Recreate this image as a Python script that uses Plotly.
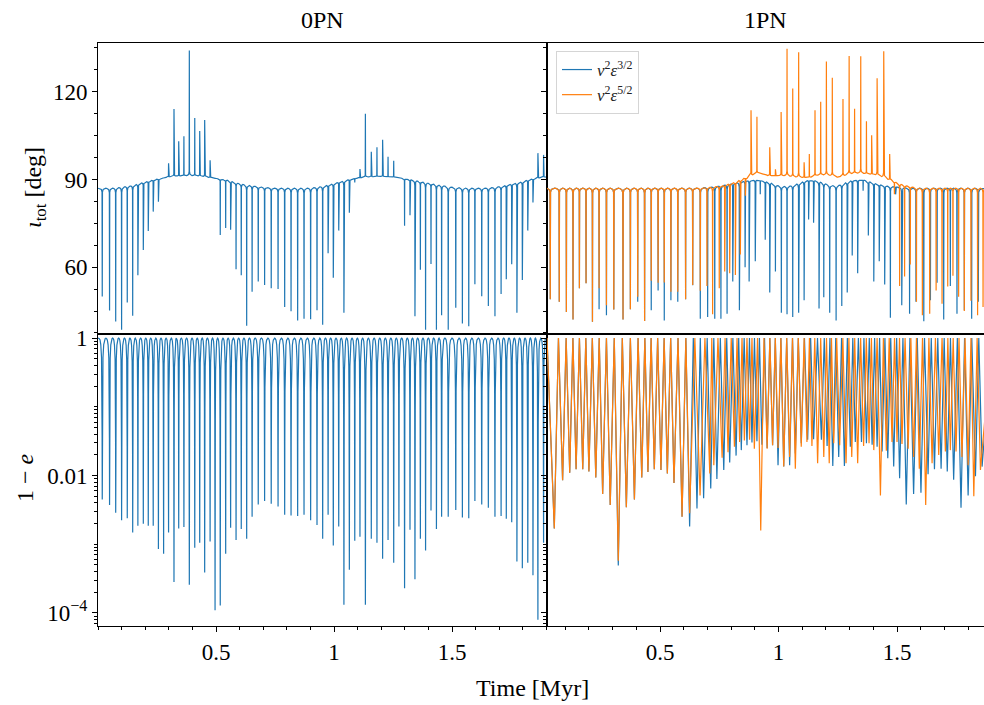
import numpy as np
import plotly.graph_objects as go

# ------------------------------------------------------------------
# DATA
# ------------------------------------------------------------------
# ---- 0PN (left column): one entry per Kozai cycle ----
t_0pn = [0.018,0.049,0.075,0.100,0.124,0.147,0.169,0.192,0.213,0.234,0.256,0.278,0.299,0.322,0.342,0.364,0.387,0.410,0.431,0.452,0.475,0.496,0.518,0.541,0.562,0.585,0.607,0.630,
         0.653,0.679,0.706,0.734,0.763,0.791,0.818,0.846,0.873,0.901,0.928,0.952,0.975,0.997,1.020,1.042,1.065,1.088,1.110,1.133,1.158,1.182,1.206,1.229,1.253,
         1.275,1.299,1.322,1.343,1.366,1.388,1.411,1.434,1.456,1.484,1.516,1.544,1.571,1.597,1.626,1.654,1.682,1.708,1.730,1.753,1.775,1.798,1.821,1.843,1.864,1.888]
inc_base_0pn = [87.0,87.0,87.1,87.3,87.6,87.9,88.4,88.9,89.3,89.7,90.1,90.5,90.9,91.1,91.2,91.3,91.3,91.3,91.2,91.0,90.7,90.4,90.1,89.8,89.3,88.8,88.4,88.0,
                87.8,87.5,87.3,87.1,87.0,87.0,87.0,87.0,87.0,87.1,87.3,87.6,88.0,88.5,89.0,89.5,89.9,90.3,90.6,90.8,90.9,91.0,91.0,90.9,90.8,
                90.6,90.2,89.9,89.6,89.2,88.9,88.5,88.2,87.9,87.5,87.2,87.1,87.0,87.0,87.0,87.1,87.3,87.6,88.0,88.4,88.8,89.2,89.7,90.1,90.5,90.8]
inc_peak_0pn = [50.0,45.2,41.4,38.6,47.9,43.4,57.2,65.9,72.4,79.0,82.4,90.5,95.5,114.1,103.1,104.8,134.1,111.0,106.6,110.3,96.6,90.4,71.0,73.4,72.8,59.3,57.2,40.0,
                51.6,55.1,53.9,52.8,52.5,46.4,44.9,41.8,42.4,42.2,45.3,40.3,64.8,56.4,72.5,44.4,78.6,89.0,93.6,112.5,99.5,101.0,103.6,97.8,96.4,
                90.6,74.2,77.8,43.2,59.1,38.6,61.1,38.6,43.6,38.6,46.1,40.7,39.8,54.2,50.1,46.7,43.2,50.8,55.9,61.0,44.4,55.6,72.5,82.1,99.0,98.4]
log_ome_min_0pn = [-2.35,-2.43,-2.54,-2.65,-2.62,-2.83,-2.73,-2.70,-2.73,-2.73,-3.07,-3.14,-2.83,-3.55,-2.77,-2.75,-3.59,-3.05,-2.98,-3.41,-2.96,-3.96,-3.89,-3.14,-2.76,-2.94,-2.78,-2.92,
                   -2.60,-2.42,-2.37,-2.41,-2.45,-2.57,-2.58,-2.59,-2.57,-2.65,-2.72,-2.92,-2.57,-3.02,-2.74,-3.88,-3.37,-2.95,-2.89,-3.88,-2.92,-2.98,-3.21,-2.94,-3.27,
                   -2.74,-3.64,-2.79,-3.51,-2.92,-3.09,-2.51,-2.78,-2.60,-2.60,-2.50,-2.61,-2.62,-2.37,-2.42,-2.47,-2.60,-2.59,-2.63,-2.68,-3.25,-3.35,-3.27,-3.45,-4.10,-2.98]
t_span_0pn = [0.0, 1.905]

# ---- 1PN (right column) ----
t_common = [0.037,0.075,0.105,0.133,0.160,0.188,0.215,0.243,0.274,0.305,0.344,0.375,0.406,0.435,0.463,0.492,0.518,0.546,0.575,0.608,0.638]

# v^2 eps^{3/2}  (blue) inclination
t_inc_b = t_common + [0.670,0.701,0.731,0.757,0.783,0.807,0.835,0.859,0.876,0.902,0.923,0.944,0.963,0.987,1.012,1.036,1.060,1.085,1.108,1.127,1.148,1.171,1.191,1.216,1.243,1.267,1.290,1.311,1.334,1.357,1.379,1.402,1.425,1.448,1.472,1.494,1.520,1.553,1.580,1.613,1.641,1.669,1.697,1.725,1.753,1.784,1.815,1.843]
inc_base_b = [87.0]*21 + [87.1,87.3,87.5,87.8,88.2,88.6,89.0,89.4,89.6,89.8,89.6,89.2,88.8,88.0,87.6,87.6,87.9,88.6,89.3,89.6,89.6,89.2,88.6,88.0,87.8,88.2,89.0,89.6,89.8,89.7,89.2,88.7,88.2,87.8,87.6,87.4,87.2,87.0,87.0,87.0,87.0,87.0,87.0,87.0,87.0,87.0,87.0,87.0]
inc_peak_b = [49.0,48.2,44.7,42.1,52.8,54.5,41.3,45.6,43.6,45.5,42.1,45.6,48.2,41.6,45.3,52.0,41.8,48.7,48.2,49.0,53.8,
              42.4,43.0,42.4,42.4,44.1,55.1,45.3,60.0,55.1,62.0,84.9,69.4,51.3,58.5,44.4,43.9,43.0,44.4,48.7,76.3,75.2,45.9,49.7,44.4,41.8,46.7,51.3,64.0,57.9,86.1,70.8,55.1,62.0,54.1,42.7,84.9,47.0,44.1,48.2,41.5,48.7,54.7,42.1,53.6,44.1,45.3,42.4,48.2]

# v^2 eps^{5/2}  (orange) inclination
t_inc_o = t_common + [0.670,0.698,0.722,0.750,0.773,0.794,0.818,0.839,0.860,0.884,0.909,0.935,0.963,0.987,1.011,1.036,1.060,1.085,1.108,1.130,1.154,1.178,1.202,1.227,1.250,1.272,1.298,1.321,1.347,1.371,1.393,1.416,1.444,1.469,1.489,1.511,1.532,1.556,1.582,1.607,1.638,1.665,1.690,1.714,1.736,1.760,1.784,1.812,1.840,1.863]
inc_base_o = [87.0]*21 + [87.1,87.2,87.4,87.7,88.0,88.5,89.0,89.7,90.4,91.5,92.2,91.8,91.3,91.3,91.3,91.3,91.0,90.8,90.7,90.8,91.3,91.6,91.6,91.3,90.8,91.3,91.9,92.2,92.2,92.0,91.8,91.5,90.8,90.0,89.0,88.4,87.9,87.5,87.1,87.0,87.0,87.0,87.0,87.0,87.0,87.0,87.0,87.0,87.0,87.0]
inc_peak_o = [49.0,48.2,44.7,42.1,52.8,54.5,41.3,52.8,47.0,45.5,42.1,45.6,49.9,41.6,55.4,54.7,54.8,51.6,51.6,49.0,53.9,
              51.9,53.6,43.9,52.8,58.5,57.9,57.3,64.3,84.4,113.7,111.4,91.8,101.0,93.5,113.1,134.7,121.1,133.5,95.9,98.7,113.7,116.6,130.3,124.8,90.8,117.5,132.2,114.2,132.1,109.9,105.1,124.6,133.8,98.7,84.9,53.6,56.8,60.9,48.2,43.6,44.1,52.0,47.5,53.4,57.1,49.9,45.0,48.5,43.6,46.4]

# 1-e minima (log10) per cycle
t_ecc_common = [0.054,0.089,0.119,0.146,0.174,0.200,0.229,0.258,0.290,0.324,0.358,0.392,0.423,0.449,0.476,0.504,0.531,0.559,0.593,0.625]
t_ecc_b = t_ecc_common + [0.656,0.684,0.714,0.740,0.769,0.794,0.821,0.843,0.867,0.888,0.909,0.930,0.952,0.975,0.998,1.022,1.047,1.071,1.096,1.123,1.148,1.181,1.205,1.229,1.254,1.278,1.303,1.324,1.350,1.371,1.395,1.416,1.437,1.461,1.486,1.511,1.539,1.570,1.601,1.631,1.658,1.686,1.712,1.739,1.770,1.800,1.831,1.859]
log_ome_min_b = [-2.77,-2.07,-1.96,-1.91,-1.91,-1.94,-2.03,-2.27,-2.43,-3.31,-2.46,-2.35,-2.03,-1.95,-1.91,-1.92,-1.97,-2.11,-2.60,-2.74,
                 -2.48,-2.33,-2.19,-2.05,-1.92,-1.81,-1.71,-1.63,-1.56,-1.52,-1.50,-1.55,-1.60,-1.56,-1.85,-1.87,-1.85,-1.68,-1.53,-1.48,-1.47,-1.48,-1.57,-1.86,-1.73,-1.86,-1.58,-1.51,-1.51,-1.53,-1.55,-1.58,-1.65,-1.75,-1.87,-2.04,-2.42,-2.27,-2.25,-1.98,-1.91,-1.90,-1.94,-2.06,-2.47,-2.29,-2.01,-1.87]
t_ecc_o = t_ecc_common + [0.669,0.710,0.727,0.762,0.787,0.814,0.836,0.856,0.878,0.898,0.925,0.952,0.975,0.998,1.022,1.047,1.071,1.096,1.120,1.141,1.165,1.191,1.214,1.233,1.258,1.285,1.309,1.334,1.359,1.382,1.402,1.430,1.455,1.479,1.500,1.521,1.547,1.570,1.594,1.621,1.648,1.676,1.704,1.725,1.749,1.774,1.800,1.824,1.852]
log_ome_min_o = [-2.77,-2.07,-1.96,-1.91,-1.91,-1.94,-2.03,-2.27,-2.43,-3.24,-2.46,-2.35,-2.03,-1.95,-1.91,-1.92,-1.97,-2.11,-2.60,-2.55,
                 -2.29,-1.97,-1.85,-1.74,-1.66,-1.58,-1.51,-1.49,-1.48,-1.61,-2.80,-1.61,-1.56,-1.60,-1.87,-1.73,-1.90,-1.58,-1.51,-1.57,-1.82,-1.73,-1.82,-1.53,-1.56,-1.82,-1.73,-1.82,-1.57,-1.53,-1.63,-2.29,-1.64,-1.51,-1.51,-1.54,-1.61,-1.73,-1.90,-2.43,-1.82,-1.70,-1.65,-1.63,-1.65,-1.73,-1.85,-2.30,-1.92]
t_span_1pn = [0.0232, 1.90]

# profile of one cycle (phase offset, fraction of excursion)
inc_profile_phase = [-0.3, -0.12, -0.03, 0.0, 0.03, 0.12, 0.3]
inc_profile_frac = [0.004, 0.012, 0.035, 1.0, 0.035, 0.012, 0.004]
ecc_profile_phase = [-0.4, -0.3, -0.2, -0.1, -0.05, -0.02, 0.0, 0.02, 0.05, 0.1, 0.2, 0.3, 0.4]
ecc_profile_frac = [0.003, 0.012, 0.04, 0.12, 0.3, 0.6, 1.0, 0.6, 0.3, 0.12, 0.04, 0.012, 0.003]

BLUE = "#1f77b4"
ORANGE = "#ff7f0e"
FONT = "Liberation Serif"


def cycles_to_line(t, base, peak, span, phases, fracs):
    """Join per-cycle extrema into a line with the read cycle profile."""
    n = len(t)
    xs, ys = [span[0]], [base[0]]
    for i in range(n):
        rgap = t[i + 1] - t[i] if i < n - 1 else span[1] - t[i]
        lgap = t[i] - t[i - 1] if i > 0 else rgap
        for p, f in zip(phases, fracs):
            g = lgap if p < 0 else rgap
            x = t[i] + p * g
            if x <= span[0]:
                continue
            xs.append(x)
            ys.append(base[i] + (peak[i] - base[i]) * f)
        if i < n - 1:
            xs.append(0.5 * (t[i] + t[i + 1]))
            ys.append(0.5 * (base[i] + base[i + 1]))
    xs.append(span[1])
    ys.append(base[-1])
    return np.array(xs), np.array(ys)


def ecc_line(t, logmin, span, phases, fracs):
    zero = [0.0] * len(t)
    x, ly = cycles_to_line(t, zero, logmin, span, phases, fracs)
    return x, 10.0 ** ly


fig = go.Figure()

# left column
x, y = cycles_to_line(t_0pn, inc_base_0pn, inc_peak_0pn, t_span_0pn, inc_profile_phase, inc_profile_frac)
fig.add_trace(go.Scatter(x=x, y=y, mode="lines", line=dict(color=BLUE, width=1.2), showlegend=False, xaxis="x", yaxis="y"))
x, y = ecc_line(t_0pn, log_ome_min_0pn, t_span_0pn, ecc_profile_phase, ecc_profile_frac)
fig.add_trace(go.Scatter(x=x, y=y, mode="lines", line=dict(color=BLUE, width=1.2), showlegend=False, xaxis="x2", yaxis="y2"))

# right column
x, y = cycles_to_line(t_inc_b, inc_base_b, inc_peak_b, t_span_1pn, inc_profile_phase, inc_profile_frac)
fig.add_trace(go.Scatter(x=x, y=y, mode="lines", line=dict(color=BLUE, width=1.2),
                         name="<i>v</i><sup>2</sup><i>ε</i><sup>3/2</sup>", xaxis="x3", yaxis="y3"))
x, y = cycles_to_line(t_inc_o, inc_base_o, inc_peak_o, t_span_1pn, inc_profile_phase, inc_profile_frac)
fig.add_trace(go.Scatter(x=x, y=y, mode="lines", line=dict(color=ORANGE, width=1.2),
                         name="<i>v</i><sup>2</sup><i>ε</i><sup>5/2</sup>", xaxis="x3", yaxis="y3"))
x, y = ecc_line(t_ecc_b, log_ome_min_b, t_span_1pn, [0.0], [1.0])
fig.add_trace(go.Scatter(x=x, y=y, mode="lines", line=dict(color=BLUE, width=1.2), showlegend=False, xaxis="x4", yaxis="y4"))
x, y = ecc_line(t_ecc_o, log_ome_min_o, t_span_1pn, [0.0], [1.0])
fig.add_trace(go.Scatter(x=x, y=y, mode="lines", line=dict(color=ORANGE, width=1.2), showlegend=False, xaxis="x4", yaxis="y4"))

W, H = 984, 705
xl = [98 / W, 547 / W]
xr = [547 / W, 1.0]
yt = [(H - 334) / H, (H - 43) / H]
yb = [(H - 626) / H, (H - 334) / H]

tickfont = dict(family=FONT, size=23, color="black")
common = dict(showline=True, linecolor="black", linewidth=1, mirror=True, showgrid=False, zeroline=False,
              tickfont=tickfont, tickcolor="black", automargin=False)

xl_range = [0.0, 1.9025]
xr_range = [0.0232, 1.867]
inc_range = [37.15, 136.66]
ome_range = [-4.19, 0.06]

minor_log = [m * 10.0 ** k for k in range(-5, 1) for m in range(2, 10)] + [0.1, 1e-3, 1e-5]

xtop = dict(common, ticks="", showticklabels=False)
xbot = dict(common, ticks="outside", ticklen=5, tickvals=[0.5, 1, 1.5], ticktext=["0.5", "1", "1.5"],
            minor=dict(ticks="outside", dtick=0.1, tick0=0, ticklen=3, tickcolor="black"))
yinc = dict(common, ticks="outside", ticklen=5, tickvals=[60, 90, 120], range=inc_range,
            minor=dict(ticks="outside", dtick=7.5, tick0=0, ticklen=3, tickcolor="black"))
yome = dict(common, type="log", ticks="outside", ticklen=5, range=ome_range,
            tickvals=[1, 0.01, 1e-4], ticktext=["1", "0.01", "10<sup>−4</sup>"],
            minor=dict(ticks="outside", tickvals=minor_log, ticklen=3, tickcolor="black"))

ann_font = dict(family=FONT, size=24, color="black")
fig.update_layout(
    template="none",
    width=W, height=H, margin=dict(l=0, r=0, t=0, b=0, pad=0), autosize=False,
    paper_bgcolor="white", plot_bgcolor="white",
    font=dict(family=FONT, color="black"),
    xaxis=dict(xtop, domain=xl, range=xl_range, anchor="y"),
    yaxis=dict(yinc, domain=yt, anchor="x"),
    xaxis2=dict(xbot, domain=xl, range=xl_range, anchor="y2"),
    yaxis2=dict(yome, domain=yb, anchor="x2"),
    xaxis3=dict(xtop, domain=xr, range=xr_range, anchor="y3"),
    yaxis3=dict(yinc, domain=yt, anchor="x3", showticklabels=False),
    xaxis4=dict(xbot, domain=xr, range=xr_range, anchor="y4"),
    yaxis4=dict(yome, domain=yb, anchor="x4", showticklabels=False),
    legend=dict(x=556 / W, y=(H - 51) / H, xanchor="left", yanchor="top",
                bgcolor="rgba(255,255,255,0.85)", bordercolor="#d5d5d5", borderwidth=1,
                font=dict(family=FONT, size=17, color="#222"), itemwidth=30, tracegroupgap=0),
    showlegend=True,
    annotations=[
        dict(text="0PN", x=322 / W, y=(H - 20) / H, xref="paper", yref="paper", showarrow=False,
             xanchor="center", yanchor="middle", font=ann_font),
        dict(text="1PN", x=765 / W, y=(H - 20) / H, xref="paper", yref="paper", showarrow=False,
             xanchor="center", yanchor="middle", font=ann_font),
        dict(text="<i>ι</i><sub>tot</sub> [deg]", x=35 / W, y=(H - 188) / H, xref="paper", yref="paper",
             showarrow=False, textangle=-90, xanchor="center", yanchor="middle", font=ann_font),
        dict(text="1 − <i>e</i>", x=25 / W, y=(H - 478) / H, xref="paper", yref="paper",
             showarrow=False, textangle=-90, xanchor="center", yanchor="middle", font=ann_font),
        dict(text="Time [Myr]", x=532 / W, y=(H - 688) / H, xref="paper", yref="paper",
             showarrow=False, xanchor="center", yanchor="middle", font=ann_font),
    ],
)

fig.write_html("out.html",
               config={"displayModeBar": False, "staticPlot": True},
               post_script="document.body.style.margin='0';document.body.style.padding='0';"
                           "document.body.style.overflow='hidden';"
                           "document.documentElement.style.overflow='hidden';")
